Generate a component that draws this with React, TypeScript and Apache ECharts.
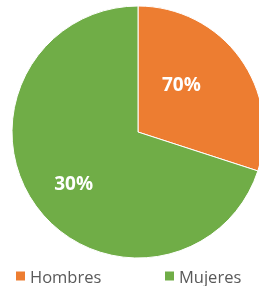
import React, { useEffect, useRef } from "react";
import * as echarts from "echarts";

const categories = ["Hombres", "Mujeres"];
const sliceValues = [30, 70];
const sliceLabels = ["70%", "30%"];
const colors = ["#ED7D31", "#70AD47"];
const labelOffsets = [[-10, -9], [-11, 12]];

export default function App() {
  const ref = useRef<HTMLDivElement>(null);
  useEffect(() => {
    if (!ref.current) return;
    const chart = echarts.init(ref.current, undefined, { renderer: "svg" });
    const legendText = {
      fontFamily: "Open Sans",
      fontSize: 16.5,
      lineHeight: 18,
      color: "#595959",
    };
    const legendBase = {
      top: 267,
      padding: 0,
      icon: "rect",
      itemWidth: 9,
      itemHeight: 9,
      itemGap: 6,
      itemStyle: { borderWidth: 0, borderColor: "transparent" },
      textStyle: legendText,
    };
    chart.setOption({
      animation: false,
      legend: [
        { ...legendBase, left: 16, data: [categories[0]] },
        { ...legendBase, left: 165, data: [categories[1]] },
      ],
      series: [
        {
          type: "pie",
          center: [138, 132],
          radius: [0, 126],
          startAngle: 90,
          clockwise: true,
          itemStyle: { borderColor: "#ffffff", borderWidth: 1 },
          label: {
            show: true,
            position: "inside",
            color: "#ffffff",
            fontFamily: "Open Sans",
            fontWeight: "bold",
            fontSize: 19,
          },
          labelLine: { show: false },
          emphasis: { disabled: true },
          data: categories.map((name, i) => ({
            name,
            value: sliceValues[i],
            itemStyle: { color: colors[i] },
            label: { formatter: sliceLabels[i], offset: labelOffsets[i] },
          })),
        },
      ],
    });
    return () => chart.dispose();
  }, []);
  return (
    <div
      ref={ref}
      style={{ position: "fixed", left: 0, top: 0, width: 259, height: 286 }}
    />
  );
}
